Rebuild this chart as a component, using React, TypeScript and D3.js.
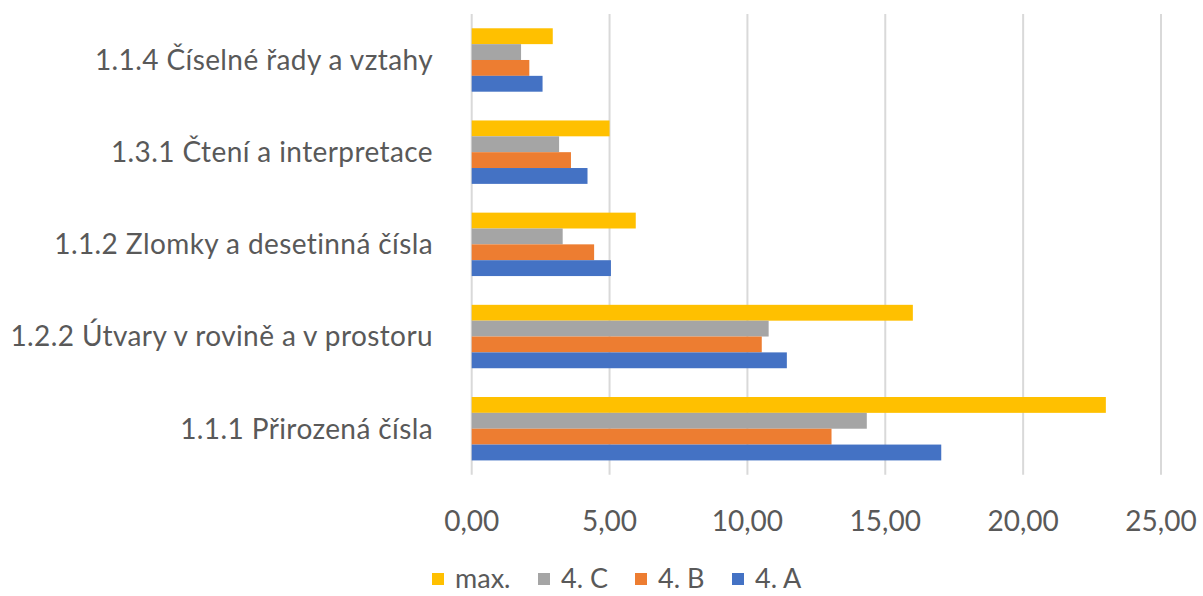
import React from "react";
import * as d3 from "d3";

const categories = [
  "1.1.4 Číselné řady a vztahy",
  "1.3.1 Čtení a interpretace",
  "1.1.2 Zlomky a desetinná čísla",
  "1.2.2 Útvary v rovině a v prostoru",
  "1.1.1 Přirozená čísla",
];
const seriesNames = ["max.", "4. C", "4. B", "4. A"];
const maxValues = [2.94, 5.0, 5.95, 16.0, 23.0];
const cValues = [1.79, 3.17, 3.3, 10.77, 14.33];
const bValues = [2.09, 3.6, 4.44, 10.52, 13.05];
const aValues = [2.57, 4.2, 5.05, 11.43, 17.03];
const xTicks = [0, 5, 10, 15, 20, 25];
const colors = ["#FFC000", "#A5A5A5", "#ED7D31", "#4472C4"];

const W = 1203;
const H = 596;
const FONT = "Lato, 'Open Sans', sans-serif";
const TEXT = "#595959";

export default function App() {
  const seriesValues = [maxValues, cValues, bValues, aValues];
  const x = d3.scaleLinear().domain([0, 25]).range([471.7, 1161]);
  const y = d3
    .scaleBand<string>()
    .domain(categories)
    .range([13.9, 474.8])
    .paddingInner(0.312)
    .paddingOuter(0.156);
  const sub = d3
    .scaleBand<string>()
    .domain(seriesNames)
    .range([0, y.bandwidth()]);
  const fmt = (v: number) => d3.format(".2f")(v).replace(".", ",");

  const legendX = [432, 538, 635, 732];

  return (
    <svg
      width={W}
      height={H}
      style={{ position: "absolute", left: 0, top: 0, background: "#fff" }}
      fontFamily={FONT}
    >
      <rect width={W} height={H} fill="#fff" />
      {xTicks.map((t) => (
        <line
          key={"g" + t}
          x1={x(t)}
          x2={x(t)}
          y1={13.9}
          y2={474.8}
          stroke="#D9D9D9"
          strokeWidth={2}
        />
      ))}
      {categories.map((c, ci) =>
        seriesNames.map((s, si) => (
          <rect
            key={c + s}
            x={x(0)}
            y={(y(c) as number) + (sub(s) as number)}
            width={x(seriesValues[si][ci]) - x(0)}
            height={sub.bandwidth()}
            fill={colors[si]}
          />
        ))
      )}
      {categories.map((c) => (
        <text
          key={"l" + c}
          x={433}
          y={(y(c) as number) + y.bandwidth() / 2}
          dy="0.35em"
          textAnchor="end"
          fontSize={28}
          letterSpacing={0.4}
          fill={TEXT}
        >
          {c}
        </text>
      ))}
      {xTicks.map((t) => (
        <text
          key={"t" + t}
          x={x(t)}
          y={521}
          dy="0.35em"
          textAnchor="middle"
          fontSize={28}
          fill={TEXT}
        >
          {fmt(t)}
        </text>
      ))}
      {seriesNames.map((s, i) => (
        <g key={"lg" + s}>
          <rect x={legendX[i]} y={573} width={12} height={12} fill={colors[i]} />
          <text
            x={legendX[i] + 23}
            y={579}
            dy="0.35em"
            fontSize={27}
            fill={TEXT}
          >
            {s}
          </text>
        </g>
      ))}
    </svg>
  );
}
